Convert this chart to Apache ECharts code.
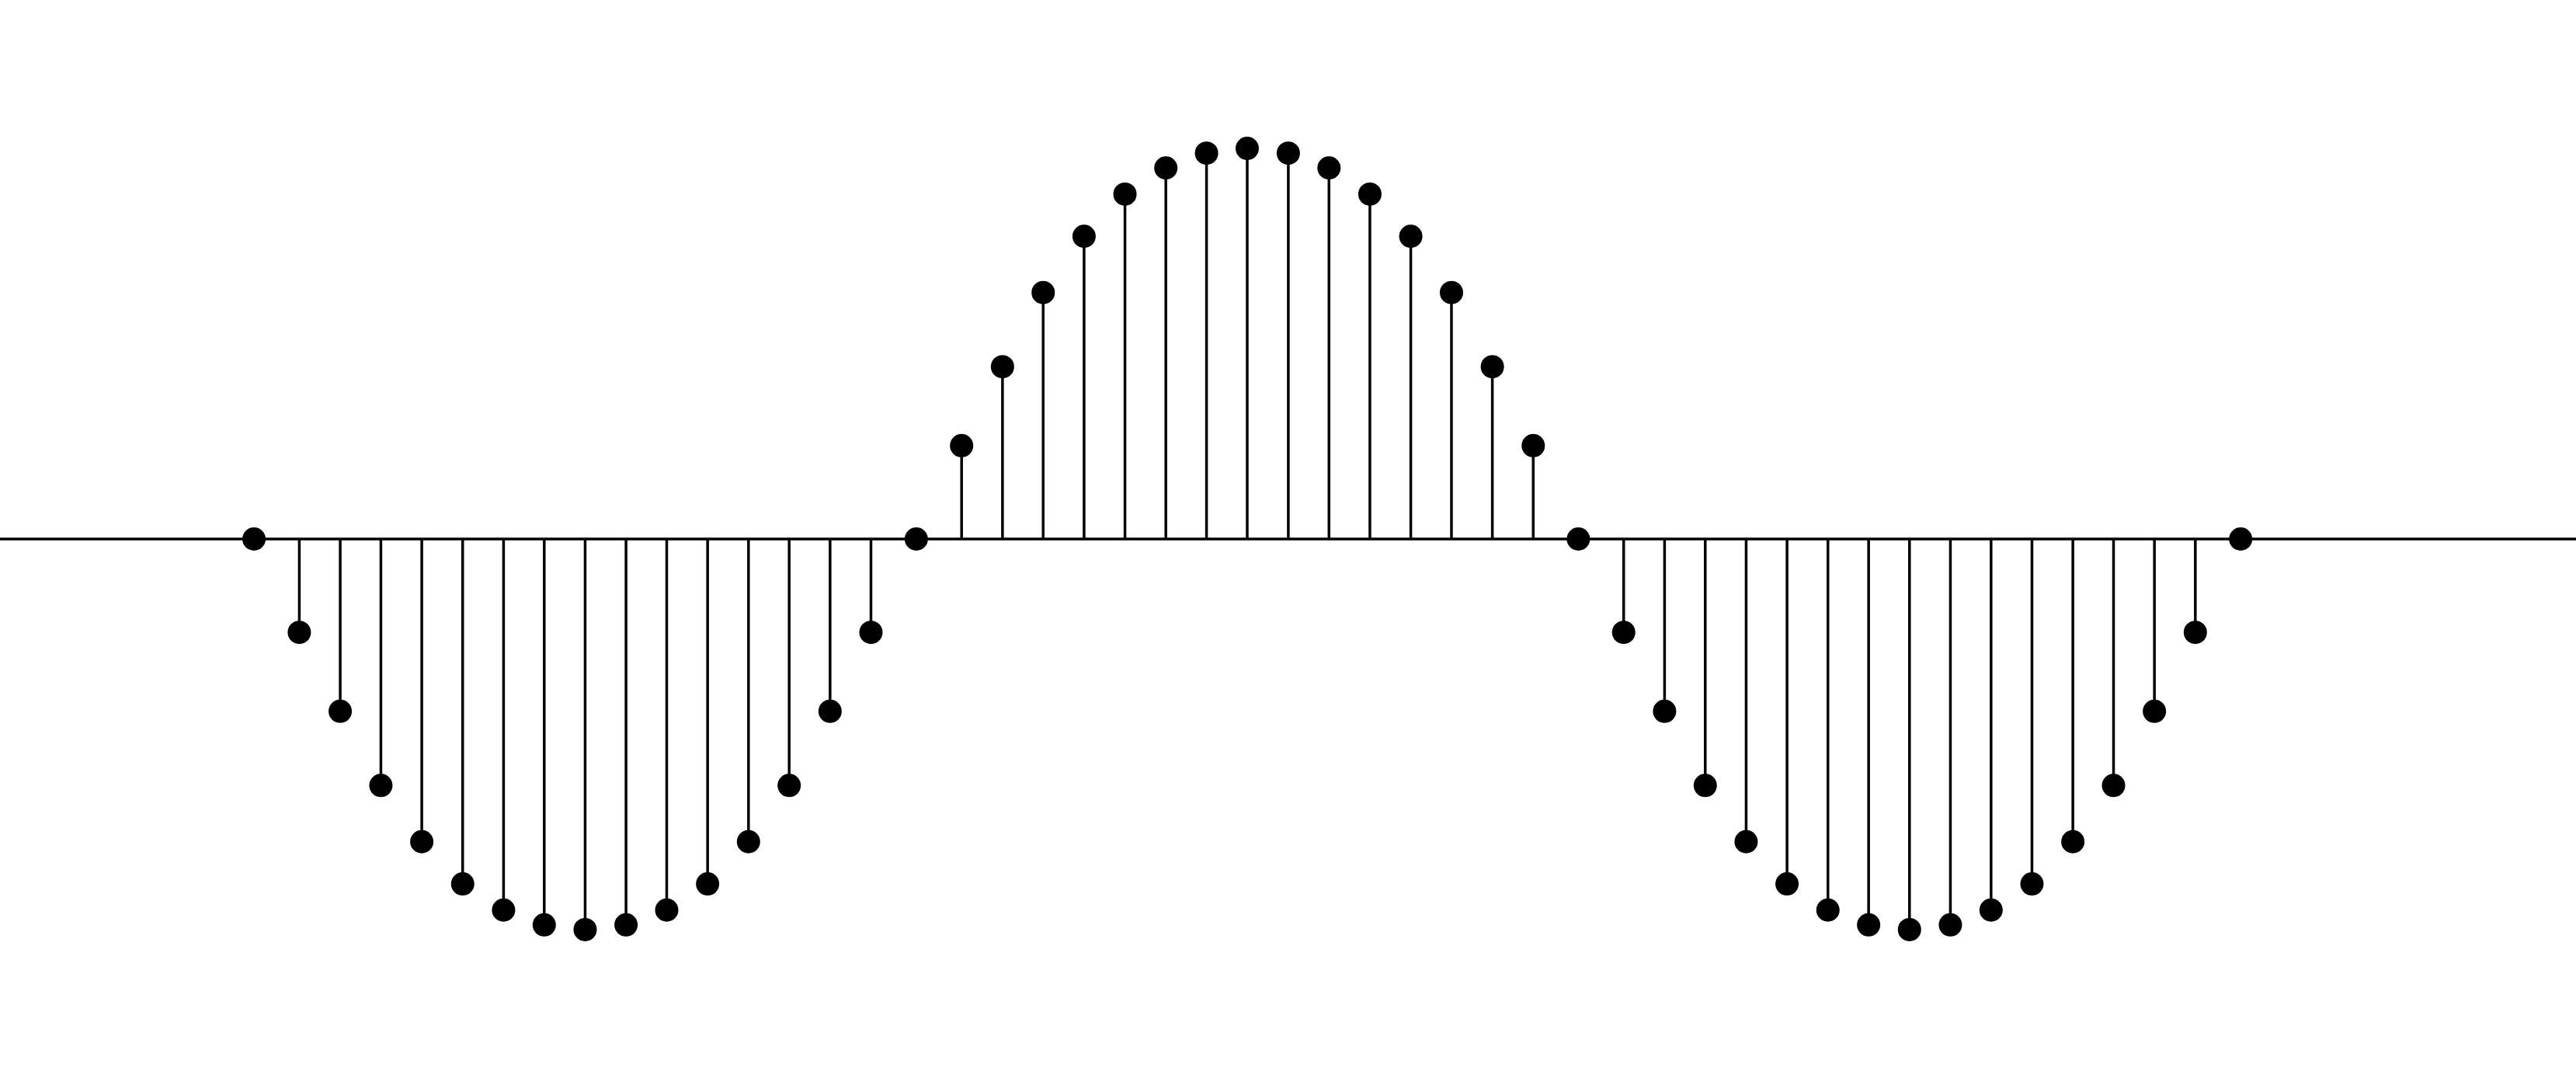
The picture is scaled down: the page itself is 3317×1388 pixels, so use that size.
<!DOCTYPE html>
<html>
<head>
<meta charset="utf-8">
<script src="https://cdn.jsdelivr.net/npm/echarts@6/dist/echarts.min.js"></script>
<style>
html,body{margin:0;padding:0;background:#fff;}
#chart{width:3317px;height:1388px;}
</style>
</head>
<body>
<div id="chart"></div>
<script>
// Zero-crossing samples (x in radians)
const zeroX = [0, 3.142, 6.283, 9.425];
const zeroY = [0, 0, 0, 0];

// Lobe 1 (negative)
const lobe1X = [0.215, 0.409, 0.602, 0.796, 0.990, 1.184, 1.377, 1.571, 1.765, 1.958, 2.152, 2.346, 2.539, 2.733, 2.927];
const lobe1Y = [-0.239, -0.441, -0.631, -0.775, -0.883, -0.950, -0.988, -1.000, -0.988, -0.950, -0.883, -0.775, -0.631, -0.441, -0.239];

// Lobe 2 (positive)
const lobe2X = [3.357, 3.551, 3.744, 3.938, 4.132, 4.326, 4.519, 4.712, 4.907, 5.100, 5.294, 5.488, 5.681, 5.875, 6.069];
const lobe2Y = [0.239, 0.441, 0.631, 0.775, 0.883, 0.950, 0.988, 1.000, 0.988, 0.950, 0.883, 0.775, 0.631, 0.441, 0.239];

// Lobe 3 (negative)
const lobe3X = [6.498, 6.692, 6.885, 7.079, 7.273, 7.467, 7.660, 7.854, 8.048, 8.241, 8.435, 8.629, 8.822, 9.016, 9.210];
const lobe3Y = [-0.239, -0.441, -0.631, -0.775, -0.883, -0.950, -0.988, -1.000, -0.988, -0.950, -0.883, -0.775, -0.631, -0.441, -0.239];

const xMin = -1.205, xMax = 11.016;
const yMin = -1.38, yMax = 1.38;

const zip = (xs, ys) => xs.map((x, i) => [x, ys[i]]);
const stems = [].concat(zip(lobe1X, lobe1Y), zip(lobe2X, lobe2Y), zip(lobe3X, lobe3Y));
const points = [].concat(zip(zeroX, zeroY), stems);

const chart = echarts.init(document.getElementById('chart'), null, {renderer: 'canvas'});
chart.setOption({
  animation: false,
  backgroundColor: '#ffffff',
  grid: {left: 0, right: 0, top: 0, bottom: 0, containLabel: false},
  xAxis: {
    type: 'value', min: xMin, max: xMax,
    axisLine: {show: true, onZero: true, lineStyle: {color: '#000', width: 3.5}},
    axisTick: {show: false}, axisLabel: {show: false}, splitLine: {show: false}
  },
  yAxis: {
    type: 'value', min: yMin, max: yMax,
    axisLine: {show: false}, axisTick: {show: false}, axisLabel: {show: false}, splitLine: {show: false}
  },
  series: [
    {
      type: 'custom',
      data: stems,
      z: 2,
      renderItem: function (params, api) {
        const top = api.coord([api.value(0), api.value(1)]);
        const base = api.coord([api.value(0), 0]);
        return {
          type: 'line',
          shape: {x1: base[0], y1: base[1], x2: top[0], y2: top[1]},
          style: {stroke: '#000', lineWidth: 3.5, opacity: 1}
        };
      }
    },
    {
      type: 'scatter',
      data: points,
      z: 3,
      symbol: 'circle',
      symbolSize: 30,
      itemStyle: {color: '#000', opacity: 1}
    }
  ]
});
</script>
</body>
</html>
